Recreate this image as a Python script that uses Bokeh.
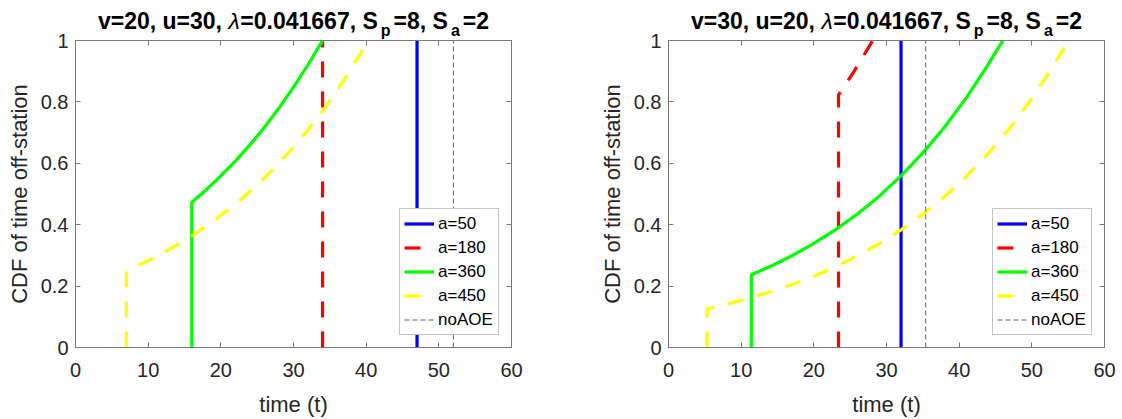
from bokeh.plotting import figure
from bokeh.models import Range1d, LinearAxis, FixedTicker, CustomJSTickFormatter, Label
from bokeh.layouts import row, column
from bokeh.embed import file_html
from bokeh.resources import INLINE

FONT = "Liberation Sans"

# ---------------- data ----------------
x_ticks = [0, 10, 20, 30, 40, 50, 60]
y_ticks = [0, 0.2, 0.4, 0.6, 0.8, 1.0]
y_tick_labels = ["0", "0.2", "0.4", "0.6", "0.8", "1"]

series_names = ["a=50", "a=180", "a=360", "a=450", "noAOE"]

# left panel: v=20, u=30
L_t_a50 = [47, 47]
L_cdf_a50 = [0, 1]
L_t_a180 = [34, 34]
L_cdf_a180 = [0, 1]
L_t_a360 = [16, 16, 18, 20, 22, 24, 26, 28, 30, 32, 34]
L_cdf_a360 = [0, 0.473, 0.514, 0.559, 0.607, 0.660, 0.717, 0.780, 0.848, 0.921, 1.0]
L_t_a450 = [7, 7, 10, 13, 16, 19, 22, 25, 28, 31, 34, 37, 40.3]
L_cdf_a450 = [0, 0.25, 0.283, 0.321, 0.364, 0.412, 0.467, 0.529, 0.600, 0.680, 0.770, 0.873, 1.0]
L_t_noaoe = [52, 52]
L_cdf_noaoe = [0, 1]

# right panel: v=30, u=20
R_t_a50 = [32, 32]
R_cdf_a50 = [0, 1]
R_t_a180 = [23.4, 23.4, 24.5, 25.5, 26.5, 27.5, 28.1]
R_cdf_a180 = [0, 0.823, 0.862, 0.898, 0.937, 0.976, 1.0]
R_t_a360 = [11.4, 11.4, 14, 17, 20, 23, 26, 29, 32, 35, 38, 41, 44, 46]
R_cdf_a360 = [0, 0.237, 0.264, 0.299, 0.339, 0.384, 0.435, 0.493, 0.559, 0.634, 0.718, 0.814, 0.922, 1.0]
R_t_a450 = [5.3, 5.3, 8, 11, 14, 17, 20, 23, 26, 29, 32, 35, 38, 41, 44, 47, 50, 53, 55]
R_cdf_a450 = [0, 0.126, 0.141, 0.160, 0.181, 0.205, 0.232, 0.263, 0.299, 0.338, 0.383, 0.434,
              0.492, 0.558, 0.632, 0.716, 0.811, 0.919, 1.0]
R_t_noaoe = [35.4, 35.4]
R_cdf_noaoe = [0, 1]

L_title = [("v=20, u=30, ", "b"), ("\u03bb", "i"), ("=0.041667, S", "b"), ("p", "s"),
           ("=8, S", "b"), ("a", "s"), ("=2", "b")]
R_title = [("v=30, u=20, ", "b"), ("\u03bb", "i"), ("=0.041667, S", "b"), ("p", "s"),
           ("=8, S", "b"), ("a", "s"), ("=2", "b")]

# ---------------- styling ----------------
COL = {"a=50": "#0000ff", "a=180": "#ff0000", "a=360": "#00ff00", "a=450": "#ffff00", "noAOE": "#333333"}
DASH = {"a=50": "solid", "a=180": "16 14", "a=360": "solid", "a=450": "16 14", "noAOE": "5 3"}
LW = {"a=50": 3.2, "a=180": 3.2, "a=360": 3.2, "a=450": 3.2, "noAOE": 0.8}

BOLD_W = {'v': 556, '=': 584, '2': 556, '0': 556, ',': 278, ' ': 278, 'u': 611, '3': 556,
          '.': 278, '4': 556, '1': 556, '6': 556, '7': 556, 'S': 667, '8': 556, 'p': 611, 'a': 556,
          '\u03bb': 520}
FRAME_W = 436
FRAME_H = 310
TITLE_H = 40
OVERLAP = 10
F_MAIN = 23
F_SUB = 16
SUB_GAP = 3.0
MAIN_BASE = 27.0 - 0.3 * F_MAIN   # anchor, px from page top (corrected for baseline shift)
SUB_BASE = 35.0 - 0.3 * F_SUB


def text_width(s, size):
    return sum(BOLD_W.get(ch, 556) for ch in s) / 1000.0 * size


def make_title(pieces, ml, mr):
    t = figure(width=561, height=TITLE_H, x_range=Range1d(0, FRAME_W), y_range=Range1d(0, TITLE_H),
               output_backend="svg", toolbar_location=None, title_location=None,
               x_axis_type=None, y_axis_type=None,
               min_border_left=ml, min_border_right=mr, min_border_top=0, min_border_bottom=0,
               margin=(0, 0, -OVERLAP, 0))
    t.outline_line_color = None
    t.grid.visible = False
    t.background_fill_color = "#ffffff"
    t.border_fill_color = "#ffffff"
    widths = []
    for txt, kind in pieces:
        if kind == "s":
            widths.append(text_width(txt, F_SUB) + 2 * SUB_GAP)
        else:
            widths.append(text_width(txt, F_MAIN))
    x = FRAME_W / 2.0 - sum(widths) / 2.0
    for (txt, kind), w in zip(pieces, widths):
        if kind == "s":
            lab = Label(x=x + SUB_GAP, y=TITLE_H - SUB_BASE, text=txt, text_font=FONT,
                        text_font_size=f"{F_SUB}px", text_font_style="bold", text_color="#000000",
                        text_baseline="alphabetic", text_align="left")
        else:
            lab = Label(x=x, y=TITLE_H - MAIN_BASE, text=txt, text_font=FONT,
                        text_font_size=f"{F_MAIN}px",
                        text_font_style=("italic" if kind == "i" else "bold"), text_color="#000000",
                        text_baseline="alphabetic", text_align="left")
        t.add_layout(lab)
        x += w
    return t


def make_panel(series, ml, mr):
    p = figure(width=561, height=419 - TITLE_H + OVERLAP, x_range=Range1d(0, 60), y_range=Range1d(0, 1),
               output_backend="svg", toolbar_location=None, title_location=None,
               min_border_left=ml, min_border_right=mr, min_border_top=40 - TITLE_H + OVERLAP,
               min_border_bottom=69)
    p.background_fill_color = "#ffffff"
    p.border_fill_alpha = 0.0
    p.outline_line_color = "#7a7a7a"
    p.grid.visible = False

    for name, (tt, cc) in zip(series_names, series):
        p.line(tt, cc, line_color=COL[name], line_width=LW[name], line_dash=DASH[name],
               legend_label=name)

    for ax, ticks in [(p.xaxis[0], x_ticks), (p.yaxis[0], y_ticks)]:
        ax.ticker = FixedTicker(ticks=ticks)
        ax.axis_line_color = "#7a7a7a"
        ax.major_tick_line_color = "#7a7a7a"
        ax.major_tick_in = 5
        ax.major_tick_out = 0
        ax.minor_tick_line_color = None
        ax.major_label_text_font = FONT
        ax.major_label_text_font_size = "20px"
        ax.major_label_text_color = "#262626"
        ax.axis_label_text_font = FONT
        ax.axis_label_text_font_size = "22px"
        ax.axis_label_text_font_style = "normal"
        ax.axis_label_text_color = "#262626"
    p.yaxis[0].major_label_overrides = {v: s for v, s in zip(y_ticks, y_tick_labels)}
    p.yaxis[0].major_label_standoff = 7
    p.xaxis[0].major_label_standoff = 15
    p.xaxis[0].axis_label = "time (t)"
    p.xaxis[0].axis_label_standoff = 12
    p.yaxis[0].axis_label = "CDF of time off-station"
    p.yaxis[0].axis_label_standoff = 6

    empty = CustomJSTickFormatter(code="return ''")
    top = LinearAxis(ticker=FixedTicker(ticks=x_ticks), formatter=empty)
    right = LinearAxis(ticker=FixedTicker(ticks=y_ticks), formatter=empty)
    for ax in (top, right):
        ax.axis_line_color = "#7a7a7a"
        ax.major_tick_line_color = "#7a7a7a"
        ax.major_tick_in = 5
        ax.major_tick_out = 0
        ax.minor_tick_line_color = None
        ax.major_label_text_font_size = "0px"
        ax.major_label_standoff = 0
    p.add_layout(top, "above")
    p.add_layout(right, "right")

    lg = p.legend[0]
    lg.location = "bottom_right"
    lg.margin = 12
    lg.padding = 4
    lg.spacing = 3
    lg.glyph_width = 30
    lg.glyph_height = 21
    lg.label_height = 21
    lg.label_width = 56
    lg.label_standoff = 4
    lg.label_text_font = FONT
    lg.label_text_font_size = "17px"
    lg.label_text_color = "#000000"
    lg.border_line_color = "#8a8a8a"
    lg.border_line_width = 1
    lg.background_fill_color = "#ffffff"
    lg.background_fill_alpha = 1.0
    return p


left = column(make_title(L_title, 75, 50),
              make_panel([(L_t_a50, L_cdf_a50), (L_t_a180, L_cdf_a180), (L_t_a360, L_cdf_a360),
                          (L_t_a450, L_cdf_a450), (L_t_noaoe, L_cdf_noaoe)], 75, 50))
right = column(make_title(R_title, 107, 18),
               make_panel([(R_t_a50, R_cdf_a50), (R_t_a180, R_cdf_a180), (R_t_a360, R_cdf_a360),
                           (R_t_a450, R_cdf_a450), (R_t_noaoe, R_cdf_noaoe)], 107, 18))

layout = row(left, right)
open("out.html", "w").write(file_html(layout, INLINE))
